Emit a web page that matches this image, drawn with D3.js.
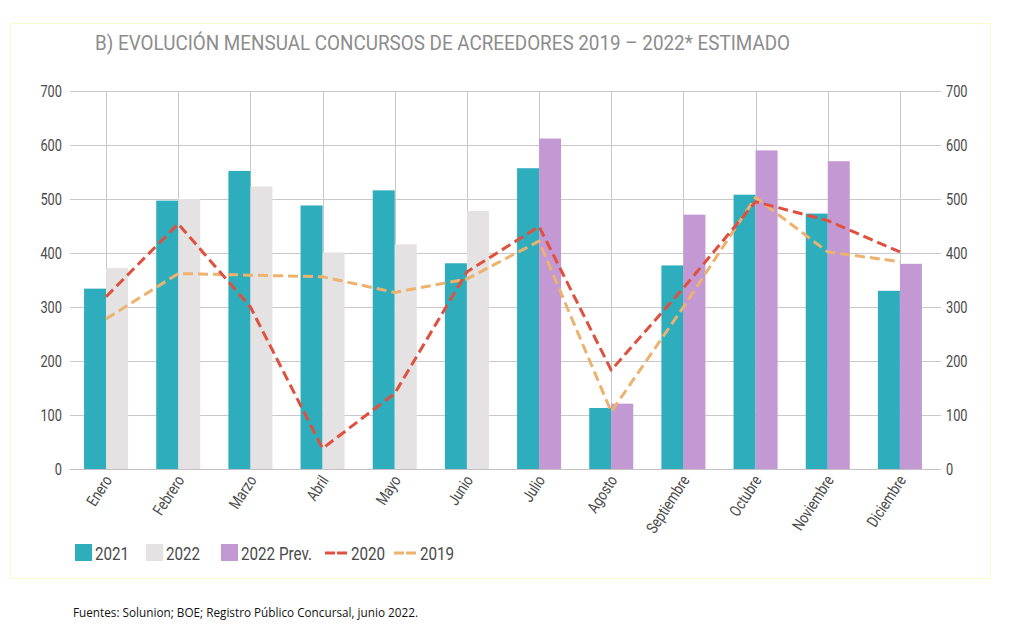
<!DOCTYPE html>
<html><head><meta charset="utf-8">
<script src="https://cdn.jsdelivr.net/npm/d3@7"></script>
<style>
body{margin:0;background:#fff;}
</style></head>
<body><svg id="c" width="1024" height="638"></svg>
<script>
const months = ["Enero","Febrero","Marzo","Abril","Mayo","Junio","Julio","Agosto","Septiembre","Octubre","Noviembre","Diciembre"];
const v2021 = [334,497,552,488,516,381,557,113,377,508,473,330];
const v2022 = [372,500,523,401,416,478,null,null,null,null,null,null];
const v2022prev = [null,null,null,null,null,null,612,121,471,590,570,380];
const v2020 = [319,454,300,38,140,365,449,183,335,495,460,402];
const v2019 = [278,362,359,356,327,352,422,106,300,503,402,384];
const yTicks = [0,100,200,300,400,500,600,700];
const legendLabels = ["2021","2022","2022 Prev.","2020","2019"];
const titleText = "B) EVOLUCIÓN MENSUAL CONCURSOS DE ACREEDORES 2019 – 2022* ESTIMADO";
const sourceText = "Fuentes: Solunion; BOE; Registro Público Concursal, junio 2022.";

const C = {teal:"#2EADBC", gray:"#E4E2E2", purple:"#C299D3", red:"#E0503F", orange:"#EDB26E", grid:"#CBC7CC", text:"#4a4a4a"};
const font = 'Roboto,"Liberation Sans",sans-serif';
const SX = 0.8;

const svg = d3.select("#c");
svg.append("rect").attr("x",10.5).attr("y",23.5).attr("width",980).attr("height",555)
  .attr("fill","none").attr("stroke","#FDF9C8").attr("stroke-width",1);

svg.append("text").attr("x",95).attr("y",50).attr("fill","#8c8c8c")
  .style("font-family",font).style("font-size","20px")
  .attr("textLength",695).attr("lengthAdjust","spacingAndGlyphs").text(titleText);

const x = d3.scaleBand().domain(months).range([70,936]).padding(0);
const y = d3.scaleLinear().domain([0,700]).range([469,91]);
const bw = x.bandwidth()*0.305;
const cx = m => x(m)+x.bandwidth()/2;

svg.append("g").selectAll("line").data(yTicks).join("line")
  .attr("x1",70).attr("x2",936).attr("y1",d=>y(d)+0.5).attr("y2",d=>y(d)+0.5)
  .attr("stroke",C.grid).attr("stroke-width",1);
svg.append("g").selectAll("line").data(months).join("line")
  .attr("x1",d=>Math.round(cx(d))+0.5).attr("x2",d=>Math.round(cx(d))+0.5)
  .attr("y1",y(700)).attr("y2",y(0))
  .attr("stroke",C.grid).attr("stroke-width",1);

const yl = svg.append("g").attr("transform","translate(70,0)")
  .call(d3.axisLeft(y).tickValues(yTicks).tickSize(0).tickPadding(8));
const yr = svg.append("g").attr("transform","translate(936,0)")
  .call(d3.axisRight(y).tickValues(yTicks).tickSize(5).tickPadding(5));
[yl,yr].forEach(g=>{g.select(".domain").remove();
  g.selectAll("line").attr("stroke",C.grid);
  g.selectAll("text").attr("fill",C.text).style("font-family",font).style("font-size","16px");});
yl.selectAll(".tick text").attr("x",0).attr("transform","translate(-8,0) scale("+SX+",1)");
yr.selectAll(".tick text").attr("x",0).attr("transform","translate(10,0) scale("+SX+",1)");

const xa = svg.append("g").attr("transform","translate(0,469)")
  .call(d3.axisBottom(x).tickSize(0).tickPadding(0));
xa.select(".domain").remove();
xa.selectAll("text").attr("fill",C.text).style("font-family",font).style("font-size","16px")
  .attr("text-anchor","end").attr("transform","translate(2,8) rotate(-57) scale("+SX+",1)")
  .attr("dy","0.35em").attr("y",0).attr("x",0);

const bars = svg.append("g");
bars.selectAll(".b21").data(months).join("rect")
  .attr("x",(m)=>cx(m)-bw).attr("width",bw)
  .attr("y",(m,i)=>y(v2021[i])).attr("height",(m,i)=>y(0)-y(v2021[i])).attr("fill",C.teal);
bars.selectAll(".b22").data(months.filter((m,i)=>v2022[i]!=null)).join("rect")
  .attr("x",m=>cx(m)).attr("width",bw)
  .attr("y",m=>y(v2022[months.indexOf(m)])).attr("height",m=>y(0)-y(v2022[months.indexOf(m)])).attr("fill",C.gray);
bars.selectAll(".b22p").data(months.filter((m,i)=>v2022prev[i]!=null)).join("rect")
  .attr("x",m=>cx(m)).attr("width",bw)
  .attr("y",m=>y(v2022prev[months.indexOf(m)])).attr("height",m=>y(0)-y(v2022prev[months.indexOf(m)])).attr("fill",C.purple);
svg.append("line").attr("x1",70).attr("x2",936).attr("y1",469.5).attr("y2",469.5).attr("stroke","#c4c0c4");

const line = d3.line().x((d,i)=>cx(months[i])).y(d=>y(d));
svg.append("path").datum(v2019).attr("d",line).attr("fill","none").attr("stroke",C.orange)
  .attr("stroke-width",3).attr("stroke-dasharray","10,5").attr("stroke-linejoin","round");
svg.append("path").datum(v2020).attr("d",line).attr("fill","none").attr("stroke",C.red)
  .attr("stroke-width",3).attr("stroke-dasharray","10,5").attr("stroke-linejoin","round");

const lg = svg.append("g").style("font-family",font).style("font-size","19px");
const items = [
  {t:legendLabels[0], type:"box", c:C.teal, x:75},
  {t:legendLabels[1], type:"box", c:C.gray, x:146},
  {t:legendLabels[2], type:"box", c:C.purple, x:221},
  {t:legendLabels[3], type:"line", c:C.red, x:325},
  {t:legendLabels[4], type:"line", c:C.orange, x:394}];
items.forEach(it=>{
  if(it.type==="box") lg.append("rect").attr("x",it.x).attr("y",544).attr("width",17).attr("height",17).attr("fill",it.c);
  else lg.append("line").attr("x1",it.x).attr("x2",it.x+22).attr("y1",553).attr("y2",553).attr("stroke",it.c).attr("stroke-width",3).attr("stroke-dasharray","10,2");
  const tx = it.type==="box"?it.x+20:it.x+26;
  lg.append("text").attr("transform","translate("+tx+",560) scale("+SX+",1)").attr("fill",C.text).text(it.t);
});

svg.append("text").attr("x",73).attr("y",617).attr("fill","#111")
  .style("font-family",'"Open Sans","Noto Sans",sans-serif').style("font-size","12px")
  .attr("textLength",345).attr("lengthAdjust","spacingAndGlyphs").text(sourceText);
</script></body></html>
